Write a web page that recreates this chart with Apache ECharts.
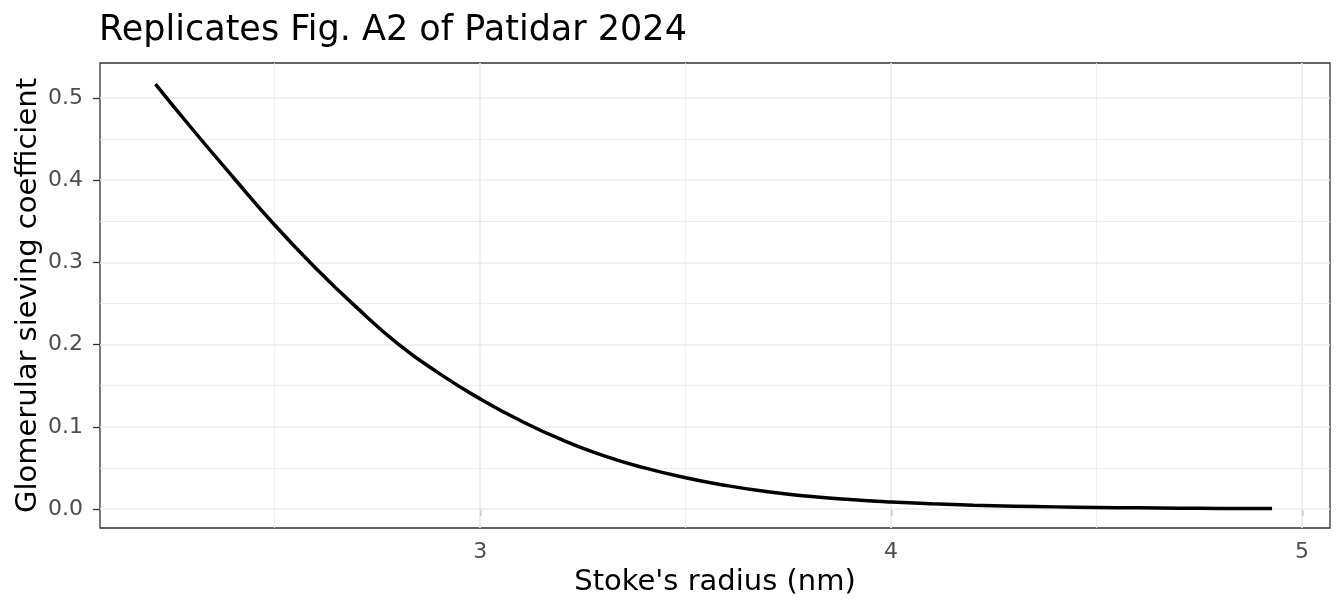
<!DOCTYPE html>
<html>
<head>
<meta charset="utf-8">
<script src="https://cdn.jsdelivr.net/npm/echarts@6/dist/echarts.min.js"></script>
<style>
  html, body { margin: 0; padding: 0; background: #ffffff; }
  #chart { width: 1344px; height: 614px; }
</style>
</head>
<body>
<div id="chart"></div>
<script>
// Stoke's radius (nm)
const radius = [2.21, 2.30, 2.40, 2.50, 2.60, 2.70, 2.80, 2.90, 3.00, 3.10, 3.20, 3.30, 3.40, 3.50, 3.60, 3.70, 3.80, 3.90, 4.00, 4.10, 4.20, 4.30, 4.40, 4.50, 4.60, 4.70, 4.80, 4.927];
// Glomerular sieving coefficient
const sieving = [0.517, 0.462, 0.403, 0.3455, 0.293, 0.245, 0.201, 0.165, 0.134, 0.107, 0.084, 0.065, 0.050, 0.038, 0.0285, 0.021, 0.0155, 0.0115, 0.0085, 0.0063, 0.0047, 0.0035, 0.0026, 0.0019, 0.0014, 0.0010, 0.0007, 0.0005];

const xMajorTicks = [3, 4, 5];
const xMinorTicks = [2.5, 3.5, 4.5];
const yMajorTicks = [0, 0.1, 0.2, 0.3, 0.4, 0.5];
const yMinorTicks = [0.05, 0.15, 0.25, 0.35, 0.45];

const FONT = 'DejaVu Sans';

const chart = echarts.init(document.getElementById('chart'), null, { renderer: 'canvas' });

function gridLines(vals, axisKey, width) {
  return vals.map(v => ({ [axisKey]: v, lineStyle: { color: '#EBEBEB', width: width, type: 'solid' } }));
}

const option = {
  backgroundColor: '#ffffff',
  animation: false,
  title: {
    text: 'Replicates Fig. A2 of Patidar 2024',
    left: 99,
    top: 13,
    padding: 0,
    textStyle: { fontFamily: FONT, fontSize: 35, fontWeight: 'normal', color: '#000000' }
  },
  grid: {
    left: 100, right: 14, top: 63, bottom: 86,
    show: true, borderColor: '#333333', borderWidth: 1.3, backgroundColor: 'transparent',
    containLabel: false
  },
  xAxis: {
    type: 'value',
    min: 2.075, max: 5.068,
    name: "Stoke's radius (nm)",
    nameLocation: 'middle',
    nameGap: 40,
    nameMoveOverlap: false,
    nameTextStyle: { fontFamily: FONT, fontSize: 29, color: '#000000' },
    axisLine: { show: false },
    axisTick: { show: true, inside: false, length: 7, customValues: xMajorTicks, lineStyle: { color: '#333333', width: 1.3 } },
    axisLabel: { show: true, customValues: xMajorTicks, margin: 13, fontFamily: FONT, fontSize: 22, color: '#4D4D4D', formatter: v => String(Math.round(v)) },
    splitLine: { show: false },
    minorSplitLine: { show: false }
  },
  yAxis: {
    type: 'value',
    min: -0.0231, max: 0.5426,
    name: 'Glomerular sieving coefficient',
    nameLocation: 'middle',
    nameGap: 57,
    nameMoveOverlap: false,
    nameRotate: 90,
    nameTextStyle: { fontFamily: FONT, fontSize: 29, color: '#000000' },
    axisLine: { show: false },
    axisTick: { show: true, inside: false, length: 7, customValues: yMajorTicks, lineStyle: { color: '#333333', width: 1.3 } },
    axisLabel: { show: true, customValues: yMajorTicks, margin: 17, fontFamily: FONT, fontSize: 22, color: '#4D4D4D', formatter: v => v.toFixed(1) },
    splitLine: { show: false }
  },
  series: [
    {
      type: 'line',
      z: 1,
      data: [],
      silent: true,
      markLine: {
        silent: true,
        symbol: 'none',
        animation: false,
        label: { show: false },
        emphasis: { disabled: true },
        data: [].concat(
          gridLines(xMinorTicks, 'xAxis', 0.9),
          gridLines(yMinorTicks, 'yAxis', 0.9),
          gridLines(xMajorTicks, 'xAxis', 1.7),
          gridLines(yMajorTicks, 'yAxis', 1.7)
        )
      }
    },
    {
      type: 'line',
      z: 5,
      data: radius.map((x, i) => [x, sieving[i]]),
      showSymbol: false,
      smooth: 0.5,
      lineStyle: { color: '#000000', width: 3.5, cap: 'butt' },
      silent: true
    }
  ]
};
chart.setOption(option);
</script>
</body>
</html>
